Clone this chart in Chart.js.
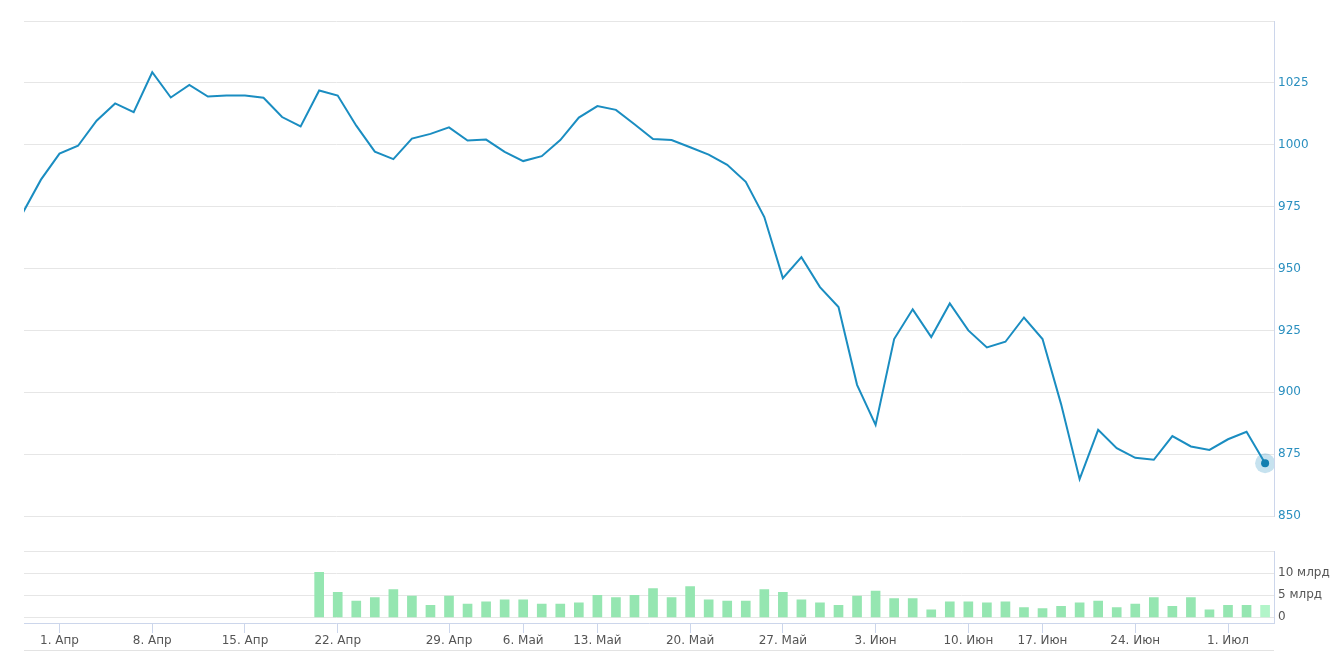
<!DOCTYPE html>
<html>
<head>
<meta charset="utf-8">
<script src="https://cdn.jsdelivr.net/npm/chart.js@4.4.1/dist/chart.umd.min.js"></script>
<style>
  html, body { margin: 0; padding: 0; background: #fff; }
  #page { position: relative; width: 1336px; height: 651px; overflow: hidden; }
  #priceBox { position: absolute; left: 0; top: 0; width: 1336px; height: 530px; }
  #volBox { position: absolute; left: 0; top: 540px; width: 1336px; height: 111px; }
  #navLine { position: absolute; left: 24px; top: 650px; width: 1250px; height: 1px; background: #e3e3e3; }
</style>
</head>
<body>
<div id="page">
  <div id="priceBox"><canvas id="price"></canvas></div>
  <div id="volBox"><canvas id="volume"></canvas></div>
  <div id="navLine"></div>
</div>
<script>
// trading days shown on the chart
const days = [
  '2024-03-28', '2024-03-29',
  '2024-04-01', '2024-04-02', '2024-04-03', '2024-04-04', '2024-04-05',
  '2024-04-08', '2024-04-09', '2024-04-10', '2024-04-11', '2024-04-12',
  '2024-04-15', '2024-04-16', '2024-04-17', '2024-04-18', '2024-04-19',
  '2024-04-22', '2024-04-23', '2024-04-24', '2024-04-25', '2024-04-26', '2024-04-27',
  '2024-04-29', '2024-04-30', '2024-05-02', '2024-05-03',
  '2024-05-06', '2024-05-07', '2024-05-08', '2024-05-10',
  '2024-05-13', '2024-05-14', '2024-05-15', '2024-05-16', '2024-05-17',
  '2024-05-20', '2024-05-21', '2024-05-22', '2024-05-23', '2024-05-24',
  '2024-05-27', '2024-05-28', '2024-05-29', '2024-05-30', '2024-05-31',
  '2024-06-03', '2024-06-04', '2024-06-05', '2024-06-06', '2024-06-07',
  '2024-06-10', '2024-06-11', '2024-06-13', '2024-06-14',
  '2024-06-17', '2024-06-18', '2024-06-19', '2024-06-20', '2024-06-21',
  '2024-06-24', '2024-06-25', '2024-06-26', '2024-06-27', '2024-06-28',
  '2024-07-01', '2024-07-02', '2024-07-03'
];

const closes = [
  972.2, 985.9,
  996.4, 999.6, 1009.7, 1016.7, 1013.2,
  1029.3, 1019.1, 1024.2, 1019.5, 1019.9,
  1019.9, 1019.0, 1011.2, 1007.4, 1021.9,
  1019.9, 1007.7, 997.2, 994.2, 1002.5, 1004.4,
  1007.0, 1001.7, 1002.1, 997.1,
  993.4, 995.4, 1001.9, 1011.0,
  1015.6, 1014.1, 1008.3, 1002.3, 1001.9,
  999.0, 996.0, 991.9, 985.0, 970.8,
  946.1, 954.6, 942.5, 934.4, 903.0,
  886.8, 921.5, 933.5, 922.3, 935.9,
  925.0, 918.1, 920.4, 930.2,
  921.5, 895.2, 864.9, 884.8, 877.4,
  873.5, 872.7, 882.3, 878.1, 876.7,
  881.0, 884.0, 871.3
];

// volume in billions (млрд), no data before 19 Apr
const volumes = [
  null, null,
  null, null, null, null, null,
  null, null, null, null, null,
  null, null, null, null, 10.2,
  5.7, 3.7, 4.5, 6.3, 4.8, 2.75,
  4.8, 3.0, 3.5, 4.0,
  4.0, 3.0, 3.0, 3.3,
  5.0, 4.5, 5.0, 6.5, 4.5,
  7.0, 4.0, 3.7, 3.7, 6.3,
  5.7, 4.0, 3.3, 2.75, 4.8,
  5.95, 4.25, 4.25, 1.7, 3.5,
  3.5, 3.3, 3.5, 2.2,
  2.0, 2.5, 3.3, 3.7, 2.2,
  3.0, 4.5, 2.5, 4.5, 1.7,
  2.75, 2.75, 2.75
];

const tickLabels = ['1. Апр', '8. Апр', '15. Апр', '22. Апр', '29. Апр', '6. Май', '13. Май',
  '20. Май', '27. Май', '3. Июн', '10. Июн', '17. Июн', '24. Июн', '1. Июл'];

const priceTicks = [850, 875, 900, 925, 950, 975, 1000, 1025, 1050];
const volumeTicks = [0, 5, 10, 15];

// ticks go on Mondays
const mondayIdx = [];
days.forEach((d, i) => {
  if (new Date(d + 'T00:00:00Z').getUTCDay() === 1) mondayIdx.push(i);
});

const X_MIN = 0.086;
const X_MAX = 67.48;
const lineColor = '#1a8dc1';
const gridColor = '#e6e6e6';
const axisColor = '#ccd6eb';

Chart.defaults.font.family = "'DejaVu Sans', Verdana, sans-serif";
Chart.defaults.font.size = 12;

const fixWidth = (scale) => { scale.width = 62; };
const last = closes.length - 1;

new Chart(document.getElementById('price'), {
  type: 'line',
  data: {
    datasets: [
      {
        data: closes.map((v, i) => ({ x: i, y: v })),
        borderColor: lineColor,
        borderWidth: 2,
        pointRadius: closes.map((v, i) => (i === last ? 4 : 0)),
        pointBackgroundColor: '#137fb0',
        pointBorderWidth: 0,
        tension: 0,
        order: 1
      },
      {
        // soft halo around the last point
        data: closes.map((v, i) => ({ x: i, y: i === last ? v : null })),
        showLine: false,
        pointRadius: 10,
        pointBackgroundColor: 'rgba(26,141,193,0.25)',
        pointBorderWidth: 0,
        order: 2
      }
    ]
  },
  options: {
    responsive: true,
    maintainAspectRatio: false,
    animation: false,
    events: [],
    layout: { padding: { left: 24, top: 21, bottom: 14, right: 0 } },
    plugins: { legend: { display: false }, tooltip: { enabled: false } },
    scales: {
      x: { type: 'linear', min: X_MIN, max: X_MAX, display: false },
      y: {
        position: 'right',
        min: 850,
        max: 1050,
        afterFit: fixWidth,
        afterBuildTicks: (scale) => { scale.ticks = priceTicks.map(v => ({ value: v })); },
        grid: { color: gridColor, drawTicks: false },
        border: { display: true, color: axisColor },
        ticks: {
          color: '#2a8fbf',
          padding: 4,
          callback: (v) => (v === 1050 ? '' : v)
        }
      }
    }
  }
});

new Chart(document.getElementById('volume'), {
  type: 'bar',
  data: {
    datasets: [{
      data: volumes.map((v, i) => ({ x: i, y: v })),
      backgroundColor: volumes.map((v, i) => (i === last ? '#b2f5c9' : '#95e6b1')),
      barThickness: 9,
      borderWidth: 0
    }]
  },
  options: {
    responsive: true,
    maintainAspectRatio: false,
    animation: false,
    events: [],
    layout: { padding: { left: 24, top: 10, bottom: 0, right: 0 } },
    plugins: { legend: { display: false }, tooltip: { enabled: false } },
    scales: {
      x: {
        type: 'linear',
        min: X_MIN,
        max: X_MAX,
        offset: false,
        afterFit: (scale) => { scale.height = 28; },
        afterBuildTicks: (scale) => { scale.ticks = mondayIdx.map(v => ({ value: v })); },
        grid: { offset: false, drawOnChartArea: false, drawTicks: true, tickLength: 10, color: axisColor },
        border: { display: true, color: axisColor },
        ticks: {
          color: '#555',
          padding: 1,
          maxRotation: 0,
          autoSkip: false,
          callback: (v) => tickLabels[mondayIdx.indexOf(v)]
        }
      },
      y: {
        position: 'right',
        min: -1.28,
        max: 15,
        afterFit: fixWidth,
        afterBuildTicks: (scale) => { scale.ticks = volumeTicks.map(v => ({ value: v })); },
        grid: { color: gridColor, drawTicks: false },
        border: { display: true, color: axisColor },
        ticks: {
          color: '#555',
          padding: 4,
          callback: (v) => (v === 15 ? '' : v === 0 ? '0' : v + ' млрд')
        }
      }
    }
  }
});
</script>
</body>
</html>
